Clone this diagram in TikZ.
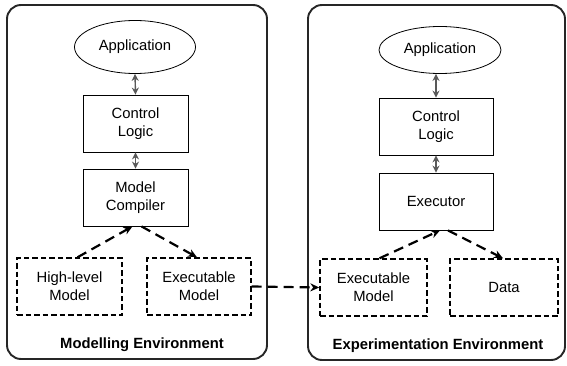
\documentclass[tikz,border=0pt]{standalone}
\usepackage{fontspec}
\setmainfont{Liberation Sans}
\usetikzlibrary{arrows.meta,shapes.geometric}

\begin{document}
\begin{tikzpicture}[x=1pt,y=-1pt,
  every node/.style={font=\fontsize{14.8}{18}\selectfont, align=center, inner sep=0pt},
  envbox/.style={draw=black!85, line width=1.9pt, rounded corners=14pt},
  envlabel/.style={font=\bfseries\fontsize{14.8}{18}\selectfont},
  appnode/.style={draw, ellipse, line width=0.8pt},
  procbox/.style={draw, line width=0.8pt, minimum height=57pt},
  databox/.style={draw, line width=1.4pt, dash pattern=on 5.5pt off 3pt, minimum height=57pt},
  biarrow/.style={line width=1.4pt, black!65,
    {Stealth[length=7pt,width=7pt,fill=black!40]}-{Stealth[length=7pt,width=7pt,fill=black!40]}},
  flowarrow/.style={line width=2.2pt, dash pattern=on 10pt off 6pt,
    -{Stealth[length=9pt,width=8pt,fill=black!60]}}
]
\useasboundingbox (0,0) rectangle (567,366);

% Modelling environment
\node[envbox, minimum width=260pt, minimum height=354pt] (envL) at (137,182) {};
\node[appnode, minimum width=121pt, minimum height=53pt] (appL) at (135,47) {Application};
\node[procbox, minimum width=105pt] (ctlL) at (135.5,123.5) {Control\\Logic};
\node[procbox, minimum width=105pt] (mcL) at (135.5,197.5) {Model\\Compiler};
\node[databox, minimum width=105pt] (hlm) at (69.5,286.5) {High-level\\Model};
\node[databox, minimum width=104pt] (exL) at (199,286.5) {Executable\\Model};
\node[envlabel] (labL) at (142,345) {Modelling Environment};

% Experimentation environment
\node[envbox, minimum width=257pt, minimum height=355pt] (envR) at (436.5,182.5) {};
\node[appnode, minimum width=122pt, minimum height=47pt] (appR) at (440,50) {Application};
\node[procbox, minimum width=114pt] (ctlR) at (436,126.5) {Control\\Logic};
\node[procbox, minimum width=114pt] (exe) at (436,201.5) {Executor};
\node[databox, minimum width=107pt] (exR) at (373.5,287.5) {Executable\\Model};
\node[databox, minimum width=108pt] (data) at (504,287.5) {Data};
\node[envlabel] (labR) at (438,346) {Experimentation Environment};

% control links
\draw[biarrow] (appL.south) -- (ctlL.north);
\draw[biarrow] (ctlL.south) -- (mcL.north);
\draw[biarrow] (appR.south -| ctlR.north) -- (ctlR.north);
\draw[biarrow] (ctlR.south) -- (exe.north);

% model flow
\draw[flowarrow] ([xshift=8pt]hlm.north) -- ([xshift=-3pt]mcL.south);
\draw[flowarrow] ([xshift=6pt]mcL.south) -- ([xshift=-2pt]exL.north);
\draw[flowarrow] ([xshift=6pt]exR.north) -- ([xshift=4pt]exe.south);
\draw[flowarrow] ([xshift=12pt]exe.south) -- ([xshift=-1pt]data.north);
\draw[flowarrow] (exL.east) -- (exR.west);
\end{tikzpicture}
\end{document}
